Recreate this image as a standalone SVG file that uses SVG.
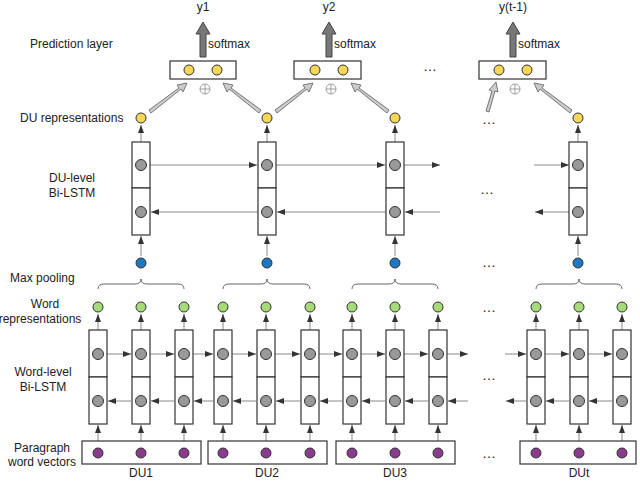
<svg xmlns="http://www.w3.org/2000/svg" width="640" height="495" viewBox="0 0 640 495">
<style>
text{font-family:"Liberation Sans",Arial,sans-serif;font-size:12px;fill:#222}
.c{text-anchor:middle}
.box{fill:#fff;stroke:#333;stroke-width:1.2}
.g{fill:#999;stroke:#333}
.y{fill:#f7d75a;stroke:#333}
.gr{fill:#a6dc78;stroke:#333}
.b{fill:#1f78c0;stroke:#333}
.p{fill:#8a3b8e;stroke:#333}
.ln path{stroke:#888;stroke-width:1;fill:none;marker-end:url(#ah)}
.br{stroke:#666;fill:none;stroke-width:1}
.fat{fill:#ccc;stroke:#777;stroke-width:1}
.up{fill:#777;stroke:#444}
.dots{font-size:14px;fill:#222;text-anchor:middle}
</style>
<defs>
<marker id="ah" markerWidth="8" markerHeight="6" refX="8" refY="3" orient="auto" markerUnits="userSpaceOnUse"><path d="M0,0L8,3L0,6z" fill="#333"/></marker>
</defs>
<g id="labels">
<text x="30" y="48">Prediction layer</text>
<text x="20" y="122">DU representations</text>
<text x="72" y="182" class="c">DU-level</text>
<text x="72" y="197" class="c">Bi-LSTM</text>
<text x="10" y="282">Max pooling</text>
<text x="45" y="308" class="c">Word</text>
<text x="40" y="323" class="c">representations</text>
<text x="43" y="376" class="c">Word-level</text>
<text x="43" y="391" class="c">Bi-LSTM</text>
<text x="42" y="452" class="c">Paragraph</text>
<text x="42" y="466" class="c">word vectors</text>
<text x="141" y="477" class="c">DU1</text>
<text x="267" y="477" class="c">DU2</text>
<text x="395" y="477" class="c">DU3</text>
<text x="579" y="477" class="c">DUt</text>
<text x="203" y="11" class="c">y1</text>
<text x="329" y="11" class="c">y2</text>
<text x="513" y="11" class="c">y(t-1)</text>
<text x="208" y="48">softmax</text>
<text x="334" y="48">softmax</text>
<text x="518" y="48">softmax</text>
<text x="430" y="71" class="dots">…</text><text x="489" y="124" class="dots">…</text><text x="487" y="194" class="dots">…</text><text x="489" y="267" class="dots">…</text><text x="489" y="312" class="dots">…</text><text x="489" y="380" class="dots">…</text><text x="489" y="458" class="dots">…</text>
</g>
<g id="connectors">
<g class="ln">
<path d="M98,441V425"/><path d="M141,441V425"/><path d="M184,441V425"/><path d="M223,441V425"/><path d="M266,441V425"/><path d="M310,441V425"/><path d="M352,441V425"/><path d="M395,441V425"/><path d="M438,441V425"/><path d="M536,441V425"/><path d="M579,441V425"/><path d="M622,441V425"/>
<path d="M98,330V314"/><path d="M141,330V314"/><path d="M184,330V314"/><path d="M223,330V314"/><path d="M266,330V314"/><path d="M310,330V314"/><path d="M352,330V314"/><path d="M395,330V314"/><path d="M438,330V314"/><path d="M536,330V314"/><path d="M579,330V314"/><path d="M622,330V314"/>
<path d="M141,142V125"/><path d="M267,142V125"/><path d="M395,142V125"/><path d="M578,142V125"/>
<path d="M141,256V236"/><path d="M267,256V236"/><path d="M395,256V236"/><path d="M578,256V236"/>
<path d="M150,165H257"/><path d="M276,165H385"/><path d="M404,165H440"/><path d="M534,165H569"/>
<path d="M258,212H151"/><path d="M386,212H277"/><path d="M440,212H405"/><path d="M570,212H535"/>
<path d="M107,354H131"/><path d="M150,354H174"/><path d="M193,354H213"/><path d="M232,354H256"/><path d="M275,354H300"/><path d="M319,354H342"/><path d="M361,354H385"/><path d="M404,354H428"/><path d="M447,354H468"/><path d="M505,354H526"/><path d="M545,354H569"/><path d="M588,354H612"/>
<path d="M131,401H108"/><path d="M174,401H151"/><path d="M213,401H194"/><path d="M256,401H233"/><path d="M300,401H276"/><path d="M342,401H320"/><path d="M385,401H362"/><path d="M428,401H405"/><path d="M468,401H448"/><path d="M526,401H506"/><path d="M569,401H546"/><path d="M612,401H589"/>
</g>
<g class="br">
<path d="M98,289Q98,284 104,284H135Q141,284 141,279Q141,284 147,284H178Q184,284 184,289"/>
<path d="M223,289Q223,284 229,284H261Q267,284 267,279Q267,284 273,284H304Q310,284 310,289"/>
<path d="M352,289Q352,284 358,284H389Q395,284 395,279Q395,284 401,284H432Q438,284 438,289"/>
<path d="M536,289Q536,284 542,284H573Q579,284 579,279Q579,284 585,284H616Q622,284 622,289"/>
</g>
<g class="fat">
<path d="M149,110L179,88L177,85L187,83L183,92L181,89L151,113z"/>
<path d="M261,110L231,88L233,85L223,83L227,92L229,89L259,113z"/>
<path d="M275,110L305,88L303,85L313,83L309,92L307,89L277,113z"/>
<path d="M389,110L359,88L361,85L351,83L355,92L357,89L387,113z"/>
<path d="M486,111L492,91L489,90L496,82L498,92L495,91L489,112z"/>
<path d="M572,110L542,88L544,85L534,83L538,92L540,89L570,113z"/>
</g>
<g class="up">
<path d="M200,57V34H196L203,22L210,34H206V57z"/>
<path d="M326,57V34H322L329,22L336,34H332V57z"/>
<path d="M510,57V34H506L513,22L520,34H516V57z"/>
</g>
<g stroke="#888" fill="none" stroke-width="0.8">
<circle cx="205" cy="89" r="5"/><path d="M200,89H210M205,84V94"/>
<circle cx="331" cy="89" r="5"/><path d="M326,89H336M331,84V94"/>
<circle cx="515" cy="89" r="5"/><path d="M510,89H520M515,84V94"/>
</g>
</g>
<g id="prediction">
<rect class="box" x="170" y="61" width="66" height="18"/><circle class="y" cx="189" cy="70" r="5"/><circle class="y" cx="217" cy="70" r="5"/>
<rect class="box" x="294" y="61" width="67" height="18"/><circle class="y" cx="315" cy="70" r="5"/><circle class="y" cx="343" cy="70" r="5"/>
<rect class="box" x="479" y="61" width="67" height="18"/><circle class="y" cx="499" cy="70" r="5"/><circle class="y" cx="527" cy="70" r="5"/>
</g>
<g id="du-reps">
<circle class="y" cx="141" cy="118" r="5"/><circle class="y" cx="267" cy="118" r="5"/><circle class="y" cx="395" cy="118" r="5"/><circle class="y" cx="578" cy="118" r="5"/>
</g>
<g id="du-lstm">
<g transform="translate(141,0)"><rect class="box" x="-9" y="142" width="18" height="46"/><rect class="box" x="-9" y="188" width="18" height="47"/><circle class="g" cx="0" cy="165" r="5.5"/><circle class="g" cx="0" cy="212" r="5.5"/></g>
<g transform="translate(267,0)"><rect class="box" x="-9" y="142" width="18" height="46"/><rect class="box" x="-9" y="188" width="18" height="47"/><circle class="g" cx="0" cy="165" r="5.5"/><circle class="g" cx="0" cy="212" r="5.5"/></g>
<g transform="translate(395,0)"><rect class="box" x="-9" y="142" width="18" height="46"/><rect class="box" x="-9" y="188" width="18" height="47"/><circle class="g" cx="0" cy="165" r="5.5"/><circle class="g" cx="0" cy="212" r="5.5"/></g>
<g transform="translate(578,0)"><rect class="box" x="-9" y="142" width="18" height="46"/><rect class="box" x="-9" y="188" width="18" height="47"/><circle class="g" cx="0" cy="165" r="5.5"/><circle class="g" cx="0" cy="212" r="5.5"/></g>
</g>
<g id="maxpool">
<circle class="b" cx="141" cy="263" r="5"/><circle class="b" cx="267" cy="263" r="5"/><circle class="b" cx="395" cy="263" r="5"/><circle class="b" cx="578" cy="263" r="5"/>
</g>
<g id="word-reps">
<circle class="gr" cx="98" cy="307" r="5"/><circle class="gr" cx="141" cy="307" r="5"/><circle class="gr" cx="184" cy="307" r="5"/>
<circle class="gr" cx="223" cy="307" r="5"/><circle class="gr" cx="266" cy="307" r="5"/><circle class="gr" cx="310" cy="307" r="5"/>
<circle class="gr" cx="352" cy="307" r="5"/><circle class="gr" cx="395" cy="307" r="5"/><circle class="gr" cx="438" cy="307" r="5"/>
<circle class="gr" cx="536" cy="307" r="5"/><circle class="gr" cx="579" cy="307" r="5"/><circle class="gr" cx="622" cy="307" r="5"/>
</g>
<g id="word-lstm">
<g transform="translate(98,0)"><rect class="box" x="-9" y="330" width="18" height="47"/><rect class="box" x="-9" y="377" width="18" height="47"/><circle class="g" cx="0" cy="354" r="5.5"/><circle class="g" cx="0" cy="401" r="5.5"/></g>
<g transform="translate(141,0)"><rect class="box" x="-9" y="330" width="18" height="47"/><rect class="box" x="-9" y="377" width="18" height="47"/><circle class="g" cx="0" cy="354" r="5.5"/><circle class="g" cx="0" cy="401" r="5.5"/></g>
<g transform="translate(184,0)"><rect class="box" x="-9" y="330" width="18" height="47"/><rect class="box" x="-9" y="377" width="18" height="47"/><circle class="g" cx="0" cy="354" r="5.5"/><circle class="g" cx="0" cy="401" r="5.5"/></g>
<g transform="translate(223,0)"><rect class="box" x="-9" y="330" width="18" height="47"/><rect class="box" x="-9" y="377" width="18" height="47"/><circle class="g" cx="0" cy="354" r="5.5"/><circle class="g" cx="0" cy="401" r="5.5"/></g>
<g transform="translate(266,0)"><rect class="box" x="-9" y="330" width="18" height="47"/><rect class="box" x="-9" y="377" width="18" height="47"/><circle class="g" cx="0" cy="354" r="5.5"/><circle class="g" cx="0" cy="401" r="5.5"/></g>
<g transform="translate(310,0)"><rect class="box" x="-9" y="330" width="18" height="47"/><rect class="box" x="-9" y="377" width="18" height="47"/><circle class="g" cx="0" cy="354" r="5.5"/><circle class="g" cx="0" cy="401" r="5.5"/></g>
<g transform="translate(352,0)"><rect class="box" x="-9" y="330" width="18" height="47"/><rect class="box" x="-9" y="377" width="18" height="47"/><circle class="g" cx="0" cy="354" r="5.5"/><circle class="g" cx="0" cy="401" r="5.5"/></g>
<g transform="translate(395,0)"><rect class="box" x="-9" y="330" width="18" height="47"/><rect class="box" x="-9" y="377" width="18" height="47"/><circle class="g" cx="0" cy="354" r="5.5"/><circle class="g" cx="0" cy="401" r="5.5"/></g>
<g transform="translate(438,0)"><rect class="box" x="-9" y="330" width="18" height="47"/><rect class="box" x="-9" y="377" width="18" height="47"/><circle class="g" cx="0" cy="354" r="5.5"/><circle class="g" cx="0" cy="401" r="5.5"/></g>
<g transform="translate(536,0)"><rect class="box" x="-9" y="330" width="18" height="47"/><rect class="box" x="-9" y="377" width="18" height="47"/><circle class="g" cx="0" cy="354" r="5.5"/><circle class="g" cx="0" cy="401" r="5.5"/></g>
<g transform="translate(579,0)"><rect class="box" x="-9" y="330" width="18" height="47"/><rect class="box" x="-9" y="377" width="18" height="47"/><circle class="g" cx="0" cy="354" r="5.5"/><circle class="g" cx="0" cy="401" r="5.5"/></g>
<g transform="translate(622,0)"><rect class="box" x="-9" y="330" width="18" height="47"/><rect class="box" x="-9" y="377" width="18" height="47"/><circle class="g" cx="0" cy="354" r="5.5"/><circle class="g" cx="0" cy="401" r="5.5"/></g>
</g>
<g id="word-vectors">
<rect class="box" x="82" y="441" width="119" height="23"/><rect class="box" x="208" y="441" width="119" height="23"/><rect class="box" x="336" y="441" width="119" height="23"/><rect class="box" x="520" y="441" width="116" height="23"/>
<circle class="p" cx="98" cy="453" r="5"/><circle class="p" cx="141" cy="453" r="5"/><circle class="p" cx="184" cy="453" r="5"/>
<circle class="p" cx="223" cy="453" r="5"/><circle class="p" cx="266" cy="453" r="5"/><circle class="p" cx="310" cy="453" r="5"/>
<circle class="p" cx="352" cy="453" r="5"/><circle class="p" cx="395" cy="453" r="5"/><circle class="p" cx="438" cy="453" r="5"/>
<circle class="p" cx="536" cy="453" r="5"/><circle class="p" cx="579" cy="453" r="5"/><circle class="p" cx="622" cy="453" r="5"/>
</g>
</svg>
